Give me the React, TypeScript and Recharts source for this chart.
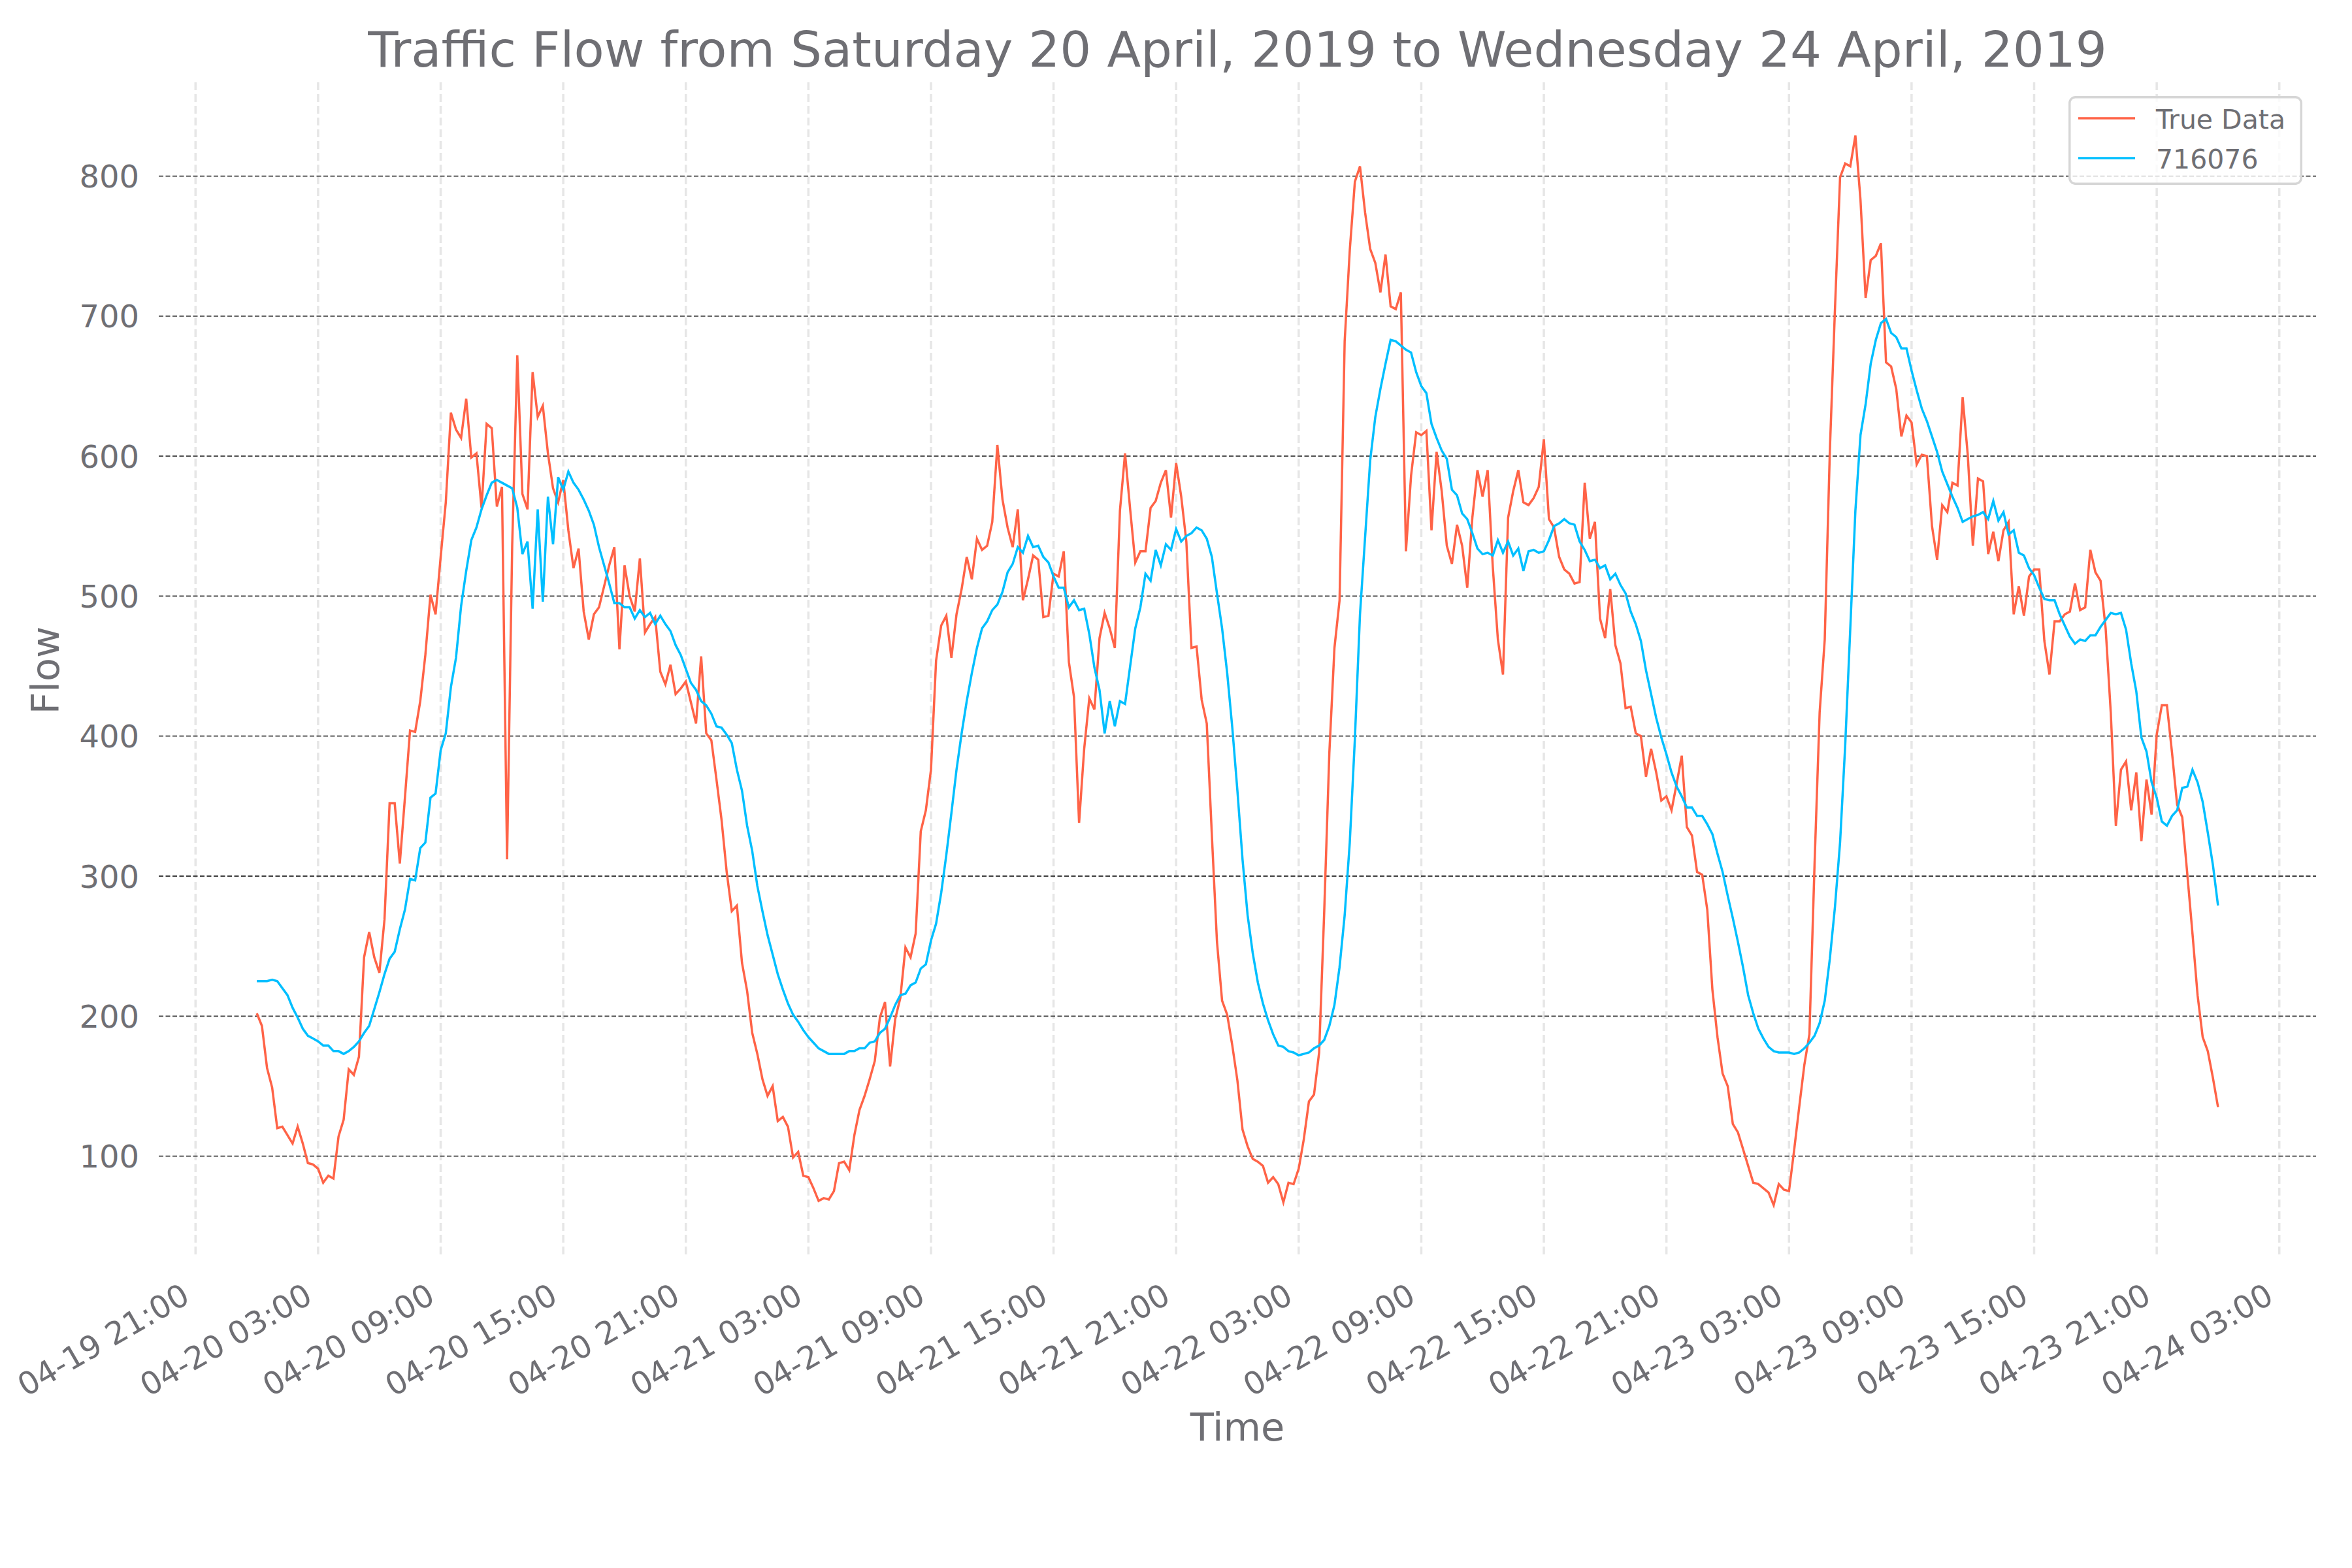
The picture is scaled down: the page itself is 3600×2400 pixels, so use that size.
import React from "react";
import {
  LineChart,
  Line,
  XAxis,
  YAxis,
  CartesianGrid,
  Legend,
} from "recharts";

// 15-minute readings, 04-20 00:00 to 04-24 00:00
const TRUE_DAY1 = [
  202, 193, 163, 149, 120, 121, 115, 109, 121, 109,
  95, 94, 91, 81, 86, 84, 114, 126, 162, 158,
  171, 242, 260, 242, 231, 269, 352, 352, 309, 356,
  404, 403, 425, 458, 501, 487, 528, 567, 631, 619,
  613, 641, 599, 602, 563, 623, 620, 564, 578, 312,
  536, 672, 573, 562, 660, 628, 636, 602, 577, 567,
  583, 547, 520, 534, 489, 469, 487, 492, 507, 522,
  535, 462, 522, 500, 489, 527,
];
const TRUE_DAY2 = [
  474, 480, 485, 446, 437, 451, 430, 434, 439, 424,
  409, 457, 402, 397, 369, 340, 303, 275, 279, 238,
  218, 188, 173, 155, 143, 150, 125, 128, 121, 99,
  103, 86, 85, 77, 68, 70, 69, 75, 95, 96,
  90, 115, 133, 143, 155, 168, 199, 210, 164, 198,
  213, 249, 242, 259, 332, 347, 376, 454, 479, 486,
  456, 487, 505, 528, 512, 541, 533, 536, 553, 608,
  569, 549, 535, 562, 497, 512, 529, 526,
];
const TRUE_DAY3 = [
  485, 486, 516, 514, 532, 453, 428, 338, 391, 427,
  419, 470, 488, 477, 463, 561, 602, 562, 524, 532,
  532, 563, 568, 581, 590, 556, 595, 571, 539, 463,
  464, 426, 409, 329, 253, 211, 201, 179, 154, 119,
  107, 98, 96, 93, 81, 85, 80, 67, 81, 80,
  91, 112, 139, 144, 174, 275, 388, 463, 497, 682,
  747, 796, 807, 774, 748, 738, 717, 744, 707, 705,
  717, 532, 586, 617, 615, 618, 547, 603,
];
const TRUE_DAY4 = [
  575, 536, 523, 551, 536, 506, 556, 590, 571, 590,
  521, 469, 444, 556, 575, 590, 567, 565, 570, 578,
  612, 555, 549, 528, 519, 516, 509, 510, 581, 541,
  553, 484, 470, 505, 465, 452, 420, 421, 402, 400,
  371, 391, 374, 354, 357, 347, 366, 386, 335, 329,
  303, 301, 276, 219, 185, 159, 150, 123, 117, 105,
  93, 81, 80, 77, 74, 65, 80, 76, 75, 104,
  135, 165, 187, 308, 417, 469, 604, 705,
];
const TRUE_DAY5 = [
  799, 809, 807, 829, 783, 713, 740, 743, 752, 667,
  664, 648, 614, 629, 624, 594, 601, 600, 550, 526,
  565, 560, 581, 579, 642, 601, 536, 584, 582, 530,
  546, 525, 547, 553, 487, 507, 486, 514, 519, 519,
  468, 444, 482, 482, 487, 489, 509, 490, 492, 533,
  517, 511, 477, 417, 336, 376, 382, 347, 374, 325,
  369, 344, 401, 422, 422, 388, 351, 342, 301, 259,
  215, 185, 175, 156, 135,
];

const PRED_DAY1 = [
  225, 225, 225, 226, 225, 220, 215, 206, 199, 191,
  186, 184, 182, 179, 179, 175, 175, 173, 175, 178,
  182, 188, 193, 205, 217, 230, 241, 246, 262, 276,
  298, 297, 320, 324, 356, 359, 390, 402, 435, 456,
  493, 518, 540, 549, 562, 572, 581, 583, 581, 579,
  577, 563, 530, 539, 491, 562, 496, 571, 537, 585,
  576, 589, 581, 576, 569, 561, 551, 535, 522, 509,
  495, 495, 492, 492, 484, 490,
];
const PRED_DAY2 = [
  485, 488, 480, 486, 480, 475, 465, 458, 448, 438,
  433, 425, 422, 416, 407, 406, 401, 395, 376, 361,
  336, 318, 293, 275, 258, 244, 230, 219, 209, 201,
  196, 190, 185, 181, 177, 175, 173, 173, 173, 173,
  175, 175, 177, 177, 181, 182, 188, 191, 199, 208,
  215, 216, 222, 224, 234, 237, 254, 266, 288, 315,
  345, 376, 402, 425, 445, 463, 477, 482, 490, 494,
  503, 517, 523, 535, 531, 543, 535, 536,
];
const PRED_DAY3 = [
  528, 524, 514, 506, 506, 492, 497, 490, 491, 473,
  449, 433, 402, 425, 407, 425, 423, 450, 477, 492,
  516, 511, 533, 522, 537, 533, 548, 539, 543, 545,
  549, 547, 541, 528, 502, 477, 445, 406, 361, 312,
  272, 245, 224, 209, 197, 187, 179, 178, 175, 174,
  172, 173, 174, 177, 179, 183, 193, 208, 235, 272,
  324, 398, 487, 542, 597, 628, 648, 666, 683, 682,
  679, 676, 674, 660, 650, 645, 623, 613,
];
const PRED_DAY4 = [
  604, 598, 576, 572, 559, 555, 545, 534, 530, 531,
  529, 540, 531, 539, 529, 534, 518, 532, 533, 531,
  532, 540, 550, 552, 555, 552, 551, 539, 533, 525,
  526, 520, 522, 512, 516, 508, 502, 489, 480, 468,
  447, 430, 413, 399, 387, 374, 364, 357, 349, 349,
  343, 343, 337, 330, 316, 303, 286, 270, 253, 235,
  215, 202, 191, 184, 178, 175, 174, 174, 174, 173,
  174, 177, 181, 186, 195, 211, 241, 278,
];
const PRED_DAY5 = [
  324, 393, 477, 561, 615, 637, 666, 683, 695, 698,
  688, 685, 677, 677, 661, 647, 634, 625, 614, 603,
  589, 580, 571, 563, 553, 555, 557, 558, 560, 555,
  568, 554, 560, 544, 547, 531, 529, 520, 515, 506,
  498, 497, 497, 487, 479, 471, 466, 469, 468, 472,
  472, 478, 483, 488, 487, 488, 476, 452, 432, 399,
  389, 367, 356, 339, 336, 343, 347, 363, 364, 376,
  367, 353, 331, 308, 279,
];

// hours after 04-20 00:00
const TICK_HOURS = [-3, 3, 9, 15, 21, 27, 33, 39, 45, 51, 57, 63, 69, 75, 81, 87, 93, 99];
const TICK_LABELS = [
  "04-19 21:00", "04-20 03:00", "04-20 09:00", "04-20 15:00", "04-20 21:00",
  "04-21 03:00", "04-21 09:00", "04-21 15:00", "04-21 21:00",
  "04-22 03:00", "04-22 09:00", "04-22 15:00", "04-22 21:00",
  "04-23 03:00", "04-23 09:00", "04-23 15:00", "04-23 21:00", "04-24 03:00",
];
const FLOW_TICKS = [100, 200, 300, 400, 500, 600, 700, 800];

const TITLE = "Traffic Flow from Saturday 20 April, 2019 to Wednesday 24 April, 2019";
const SERIES_TRUE = "True Data";
const SERIES_PRED = "716076";
const LEGEND_ORDER = [SERIES_TRUE, SERIES_PRED];

const FONT = "DejaVu Sans";
const TEXT = "#6f6f74";
const RED = "#ff6347";
const BLUE = "#00bfff";

const trueFlow = [...TRUE_DAY1, ...TRUE_DAY2, ...TRUE_DAY3, ...TRUE_DAY4, ...TRUE_DAY5];
const predFlow = [...PRED_DAY1, ...PRED_DAY2, ...PRED_DAY3, ...PRED_DAY4, ...PRED_DAY5];

const chartData = trueFlow.map((v, i) => ({
  t: i / 4,
  trueData: v,
  pred: predFlow[i],
}));

const XTick = ({ x, y, payload }: any) => {
  const label = TICK_LABELS[TICK_HOURS.indexOf(payload.value)];
  const ex = x - 6;
  const ey = y + 66;
  return (
    <text
      x={ex}
      y={ey}
      textAnchor="end"
      transform={`rotate(-30 ${ex} ${ey})`}
      fontSize={48}
      fontFamily={FONT}
      fill={TEXT}
    >
      {label}
    </text>
  );
};

const YTick = ({ x, y, payload }: any) => (
  <text
    x={x - 30}
    y={y + 17.5}
    textAnchor="end"
    fontSize={48}
    fontFamily={FONT}
    fill={TEXT}
  >
    {payload.value}
  </text>
);

const XName = ({ viewBox }: any) => (
  <text
    x={viewBox.x + viewBox.width / 2}
    y={viewBox.y + 279}
    textAnchor="middle"
    fontSize={59}
    fontFamily={FONT}
    fill={TEXT}
  >
    Time
  </text>
);

const YName = ({ viewBox }: any) => {
  const cx = 90;
  const cy = viewBox.y + viewBox.height / 2;
  return (
    <text
      x={cx}
      y={cy}
      textAnchor="middle"
      transform={`rotate(-90 ${cx} ${cy})`}
      fontSize={59}
      fontFamily={FONT}
      fill={TEXT}
    >
      Flow
    </text>
  );
};

const LegendBox = ({ payload }: any) => {
  const items = [...(payload || [])].sort(
    (a: any, b: any) => LEGEND_ORDER.indexOf(a.value) - LEGEND_ORDER.indexOf(b.value)
  );
  return (
    <svg width={358} height={136} style={{ display: "block" }}>
      <rect
        x={1.75}
        y={1.75}
        width={354.5}
        height={132.5}
        rx={9}
        fill="rgba(255,255,255,0.8)"
        stroke="#d6d6d6"
        strokeWidth={3.5}
      />
      {items.map((p: any, i: number) => (
        <g key={p.value}>
          <line
            x1={15}
            x2={102}
            y1={34 + i * 61}
            y2={34 + i * 61}
            stroke={p.color}
            strokeWidth={3.5}
          />
          <text
            x={134}
            y={50 + i * 61}
            fontSize={41}
            fontFamily={FONT}
            fill={TEXT}
          >
            {p.value}
          </text>
        </g>
      ))}
    </svg>
  );
};

const App = () => {
  return (
    <div
      style={{
        position: "absolute",
        left: 0,
        top: 0,
        width: 3600,
        height: 2400,
        background: "#fff",
      }}
    >
      <svg
        width={3600}
        height={200}
        style={{ position: "absolute", left: 0, top: 0, pointerEvents: "none" }}
      >
        <text
          x={1894}
          y={102}
          textAnchor="middle"
          fontSize={75.5}
          fontFamily={FONT}
          fill={TEXT}
        >
          {TITLE}
        </text>
      </svg>
      <LineChart
        width={3600}
        height={2400}
        data={chartData}
        margin={{ top: 126, right: 55, bottom: 0, left: 0 }}
      >
        <CartesianGrid
          horizontal={false}
          verticalValues={TICK_HOURS}
          stroke="#e6e6e6"
          strokeWidth={3.5}
          strokeDasharray="12 6"
        />
        <CartesianGrid
          vertical={false}
          horizontalValues={FLOW_TICKS}
          stroke="#3c3c3c"
          strokeWidth={1.8}
          strokeDasharray="7 3.5"
        />
        <XAxis
          dataKey="t"
          type="number"
          domain={[-4.8, 100.8]}
          ticks={TICK_HOURS}
          allowDataOverflow
          height={474}
          axisLine={false}
          tickLine={false}
          tickSize={0}
          tickMargin={0}
          tick={<XTick />}
          interval={0}
          label={<XName />}
        />
        <YAxis
          type="number"
          domain={[27, 867]}
          ticks={FLOW_TICKS}
          allowDataOverflow
          width={243}
          axisLine={false}
          tickLine={false}
          tickSize={0}
          tickMargin={0}
          tick={<YTick />}
          interval={0}
          label={<YName />}
        />
        <Legend
          layout="vertical"
          align="center"
          verticalAlign="middle"
          content={<LegendBox />}
          wrapperStyle={{ left: 3166, top: 147, width: 358, height: 136 }}
        />
        <Line
          dataKey="trueData"
          name={SERIES_TRUE}
          type="linear"
          stroke={RED}
          strokeWidth={3.5}
          dot={false}
          isAnimationActive={false}
        />
        <Line
          dataKey="pred"
          name={SERIES_PRED}
          type="linear"
          stroke={BLUE}
          strokeWidth={3.5}
          dot={false}
          isAnimationActive={false}
        />
      </LineChart>
    </div>
  );
};

export default App;
